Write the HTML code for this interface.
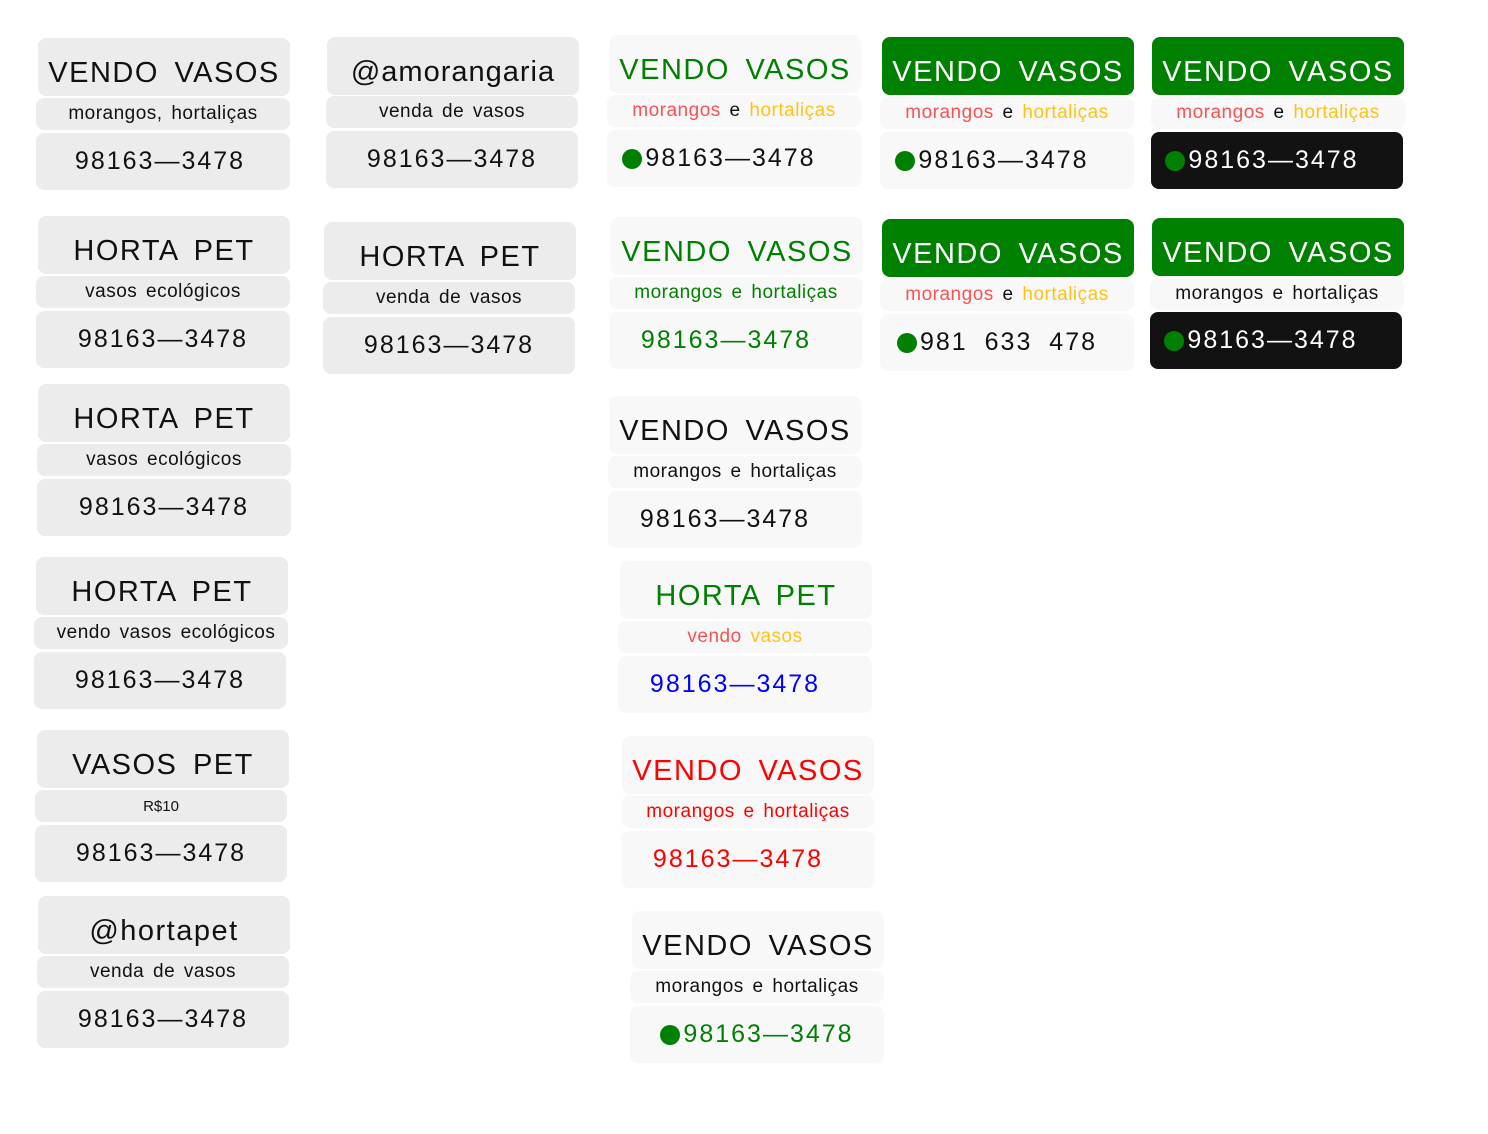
<!DOCTYPE html>
<html><head><meta charset="utf-8"><style>
*{box-sizing:border-box}
body{margin:0;width:1488px;height:1134px;background:#fff;position:relative;overflow:hidden;font-family:"Liberation Sans","DejaVu Sans",sans-serif;}
.b{position:absolute;border-radius:8px;display:flex;align-items:center;justify-content:center;white-space:nowrap;color:#111;}
.g{background:#ececec}.l{background:#f8f8f8}.gr{background:#008000;color:#fff}.k{background:#121212;color:#fff}
.t{font-size:29px;letter-spacing:1.5px;word-spacing:6px;padding-top:12px}
.m{font-size:19px;letter-spacing:0.5px;word-spacing:3px}
.p{font-size:25px;letter-spacing:2px}
.d{display:inline-block;width:20px;height:20px;border-radius:50%;background:#008000;margin-right:3px;vertical-align:-2px}
.r{color:#fa5252}.y{color:#fcc419}.G{color:#008000}
</style></head><body>
<!-- col1 -->
<div class="b g t" style="left:38px;top:38px;width:252px;height:58px">VENDO VASOS</div>
<div class="b g m" style="left:36px;top:98px;width:254px;height:32px">morangos, hortaliças</div>
<div class="b g p" style="left:36px;top:133px;width:254px;height:57px;padding-right:6px">98163—3478</div>

<div class="b g t" style="left:38px;top:216px;width:252px;height:58px">HORTA PET</div>
<div class="b g m" style="left:36px;top:276px;width:254px;height:32px">vasos ecológicos</div>
<div class="b g p" style="left:36px;top:311px;width:254px;height:57px">98163—3478</div>

<div class="b g t" style="left:38px;top:384px;width:252px;height:58px">HORTA PET</div>
<div class="b g m" style="left:37px;top:444px;width:254px;height:32px">vasos ecológicos</div>
<div class="b g p" style="left:37px;top:479px;width:254px;height:57px">98163—3478</div>

<div class="b g t" style="left:36px;top:557px;width:252px;height:58px">HORTA PET</div>
<div class="b g m" style="left:34px;top:617px;width:254px;height:32px;padding-left:10px">vendo vasos ecológicos</div>
<div class="b g p" style="left:34px;top:652px;width:252px;height:57px">98163—3478</div>

<div class="b g t" style="left:37px;top:730px;width:252px;height:58px">VASOS PET</div>
<div class="b g" style="left:35px;top:790px;width:252px;height:32px;font-size:15px">R$10</div>
<div class="b g p" style="left:35px;top:825px;width:252px;height:57px">98163—3478</div>

<div class="b g t" style="left:38px;top:896px;width:252px;height:58px">@hortapet</div>
<div class="b g m" style="left:37px;top:956px;width:252px;height:32px">venda de vasos</div>
<div class="b g p" style="left:37px;top:991px;width:252px;height:57px">98163—3478</div>
<!-- col2 -->
<div class="b g t" style="left:327px;top:37px;width:252px;height:58px;letter-spacing:1px">@amorangaria</div>
<div class="b g m" style="left:326px;top:96px;width:252px;height:32px">venda de vasos</div>
<div class="b g p" style="left:326px;top:131px;width:252px;height:57px">98163—3478</div>

<div class="b g t" style="left:324px;top:222px;width:252px;height:58px">HORTA PET</div>
<div class="b g m" style="left:323px;top:282px;width:252px;height:32px">venda de vasos</div>
<div class="b g p" style="left:323px;top:317px;width:252px;height:57px">98163—3478</div>
<!-- col3 -->
<div class="b l t G" style="left:609px;top:35px;width:252px;height:58px">VENDO VASOS</div>
<div class="b l m" style="left:607px;top:95px;width:254px;height:32px"><span class="r">morangos</span>&nbsp;e&nbsp;<span class="y">hortaliças</span></div>
<div class="b l p" style="left:607px;top:130px;width:254px;height:57px;padding-right:30px"><span class="d"></span>98163—3478</div>

<div class="b l t G" style="left:611px;top:217px;width:252px;height:58px">VENDO VASOS</div>
<div class="b l m G" style="left:609px;top:277px;width:254px;height:32px">morangos e hortaliças</div>
<div class="b l p G" style="left:609px;top:312px;width:254px;height:57px;padding-right:20px">98163—3478</div>

<div class="b l t" style="left:609px;top:396px;width:252px;height:58px">VENDO VASOS</div>
<div class="b l m" style="left:608px;top:456px;width:254px;height:32px">morangos e hortaliças</div>
<div class="b l p" style="left:608px;top:491px;width:254px;height:57px;padding-right:20px">98163—3478</div>

<div class="b l t G" style="left:620px;top:561px;width:252px;height:58px">HORTA PET</div>
<div class="b l m" style="left:618px;top:621px;width:254px;height:32px"><span class="r">vendo</span>&nbsp;<span class="y">vasos</span></div>
<div class="b l p" style="left:618px;top:656px;width:254px;height:57px;padding-right:20px;color:#00f">98163—3478</div>

<div class="b l t" style="left:622px;top:736px;width:252px;height:58px;color:#f00">VENDO VASOS</div>
<div class="b l m" style="left:621px;top:796px;width:254px;height:32px;color:#f00">morangos e hortaliças</div>
<div class="b l p" style="left:621px;top:831px;width:254px;height:57px;padding-right:20px;color:#f00">98163—3478</div>

<div class="b l t" style="left:632px;top:911px;width:252px;height:58px">VENDO VASOS</div>
<div class="b l m" style="left:630px;top:971px;width:254px;height:32px">morangos e hortaliças</div>
<div class="b l p G" style="left:630px;top:1006px;width:254px;height:57px"><span class="d"></span>98163—3478</div>
<!-- col4 -->
<div class="b gr t" style="left:882px;top:37px;width:252px;height:58px">VENDO VASOS</div>
<div class="b l m" style="left:880px;top:97px;width:254px;height:32px"><span class="r">morangos</span>&nbsp;e&nbsp;<span class="y">hortaliças</span></div>
<div class="b l p" style="left:880px;top:132px;width:254px;height:57px;padding-right:30px"><span class="d"></span>98163—3478</div>

<div class="b gr t" style="left:882px;top:219px;width:252px;height:58px">VENDO VASOS</div>
<div class="b l m" style="left:880px;top:279px;width:254px;height:32px"><span class="r">morangos</span>&nbsp;e&nbsp;<span class="y">hortaliças</span></div>
<div class="b l p" style="left:880px;top:314px;width:254px;height:57px;padding-right:20px;word-spacing:8px"><span class="d"></span>981 633 478</div>
<!-- col5 -->
<div class="b gr t" style="left:1152px;top:37px;width:252px;height:58px">VENDO VASOS</div>
<div class="b l m" style="left:1151px;top:97px;width:254px;height:32px"><span class="r">morangos</span>&nbsp;e&nbsp;<span class="y">hortaliças</span></div>
<div class="b k p" style="left:1151px;top:132px;width:252px;height:57px;padding-right:30px"><span class="d"></span>98163—3478</div>

<div class="b gr t" style="left:1152px;top:218px;width:252px;height:58px">VENDO VASOS</div>
<div class="b l m" style="left:1150px;top:278px;width:254px;height:32px">morangos e hortaliças</div>
<div class="b k p" style="left:1150px;top:312px;width:252px;height:57px;padding-right:30px"><span class="d"></span>98163—3478</div>
</body></html>
